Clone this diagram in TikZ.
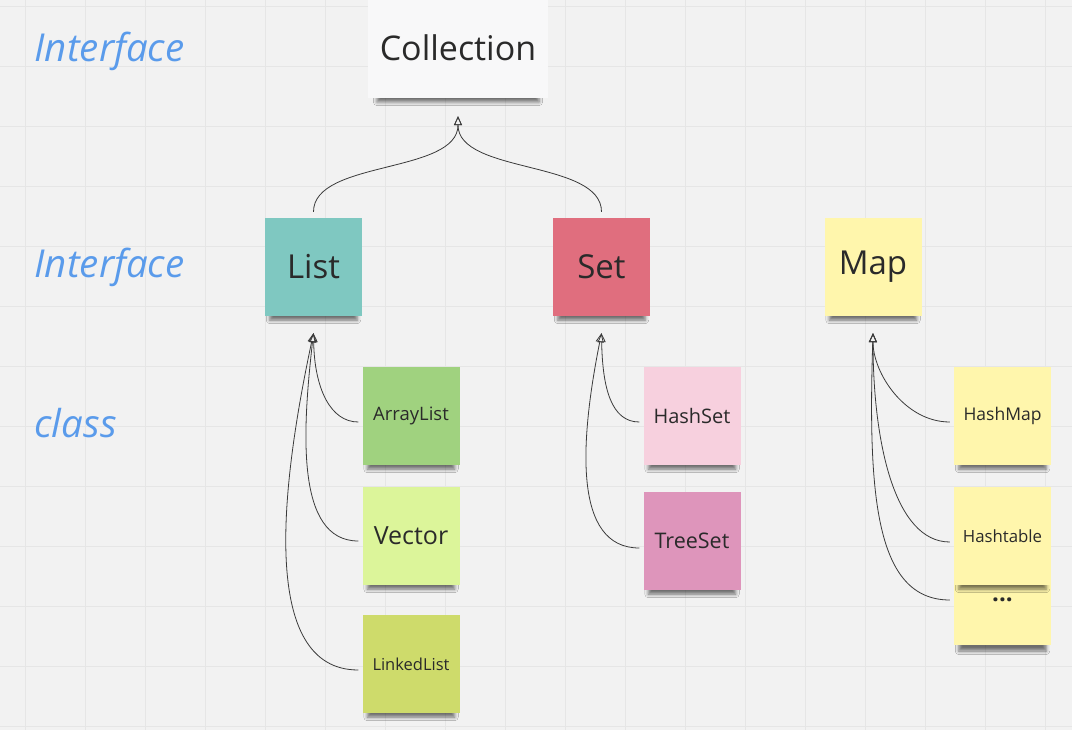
\documentclass[tikz,border=0pt]{standalone}
\usepackage{fontspec}
\setmainfont{Open Sans}
\usepackage{xcolor}
\usepackage{tikz}
\usetikzlibrary{arrows.meta, positioning, shadows.blur}
\definecolor{board}{HTML}{F2F2F2}
\definecolor{gridc}{HTML}{E6E6E6}
\definecolor{ink}{HTML}{2A2A2A}
\definecolor{wire}{HTML}{3A3A3A}
\definecolor{tagBlue}{HTML}{5A9BEB}
\definecolor{paperWhite}{HTML}{F8F8F9}
\definecolor{listTeal}{HTML}{7FC8C1}
\definecolor{setRed}{HTML}{E06E7E}
\definecolor{mapYellow}{HTML}{FFF6AC}
\definecolor{arrGreen}{HTML}{A0D27F}
\definecolor{vecLime}{HTML}{DCF59A}
\definecolor{lnkOlive}{HTML}{CEDB6B}
\definecolor{hsPink}{HTML}{F7D0DE}
\definecolor{tsPink}{HTML}{DE95BB}

\begin{document}
\begin{tikzpicture}[x=1pt, y=-1pt, font=\fontsize{33pt}{35pt}\selectfont]
    \tikzset{
      note/.style={rectangle, minimum width=97pt, minimum height=98pt,
                   inner sep=0pt, align=center, text=ink,
                   blur shadow={shadow xshift=0pt, shadow yshift=-10pt,
                                shadow scale=0.9, shadow blur radius=4pt,
                                shadow opacity=55}},
      tag/.style={anchor=west, text=tagBlue,
                  font=\fontsize{38.5pt}{40pt}\selectfont\itshape},
      gridline/.style={draw=gridc, line width=0.6pt},
      inh/.style={-{Triangle[open, length=9pt, width=8pt]}, draw=wire,
                  line width=0.8pt}
    }
    % board and grid
    \fill[board] (0,0) rectangle (1072,730);
    \useasboundingbox (0,0) rectangle (1072,730);
    \foreach \gx in {25,85,...,1045}
      \draw[gridline] (\gx,0) -- (\gx,730);
    \foreach \gy in {6,66,...,726}
      \draw[gridline] (0,\gy) -- (1072,\gy);
    % level labels
    \node[tag] (lvlTop) at (31,51) {Interface};
    \node[tag] (lvlMid) at (31,267) {Interface};
    \node[tag] (lvlCls) at (31,423) {class};
    % interfaces
    \node[note, fill=paperWhite, minimum width=180pt, minimum height=100pt,
          font=\fontsize{34pt}{36pt}\selectfont] (coll) at (458,48) {Collection};
    \node[note, fill=listTeal] (list) at (313.5,267) {List};
    \node[note, fill=setRed] (set) at (601.5,267) {Set};
    \node[note, fill=mapYellow] (map) at (873,267) {Map};
    % classes
    \node[note, fill=arrGreen, font=\fontsize{18.5pt}{20pt}\selectfont] (arr) at (411,416) {ArrayList};
    \node[note, fill=vecLime, font=\fontsize{25pt}{27pt}\selectfont] (vec) at (411,536) {Vector};
    \node[note, fill=lnkOlive, font=\fontsize{16.5pt}{18pt}\selectfont] (lnk) at (411,664) {LinkedList};
    \node[note, fill=hsPink, font=\fontsize{20pt}{22pt}\selectfont] (hset) at (692,416) {HashSet};
    \node[note, fill=tsPink, font=\fontsize{21.5pt}{23pt}\selectfont] (tset) at (692,541) {TreeSet};
    \node[note, fill=mapYellow, minimum height=60pt, text depth=30pt,
          font=\bfseries\fontsize{24pt}{26pt}\selectfont] (more) at (1002.5,615) {...};
    \node[note, fill=mapYellow, font=\fontsize{17.5pt}{19pt}\selectfont] (hmap) at (1002.5,416) {HashMap};
    \node[note, fill=mapYellow, font=\fontsize{16.8pt}{18pt}\selectfont] (htab) at (1002.5,536) {Hashtable};
    % inheritance
    \draw[inh] ([yshift=6pt]list.north) .. controls +(0,-52) and +(0,58) .. ([yshift=-18pt]coll.south);
    \draw[inh] ([yshift=6pt]set.north) .. controls +(0,-52) and +(0,58) .. ([yshift=-18pt]coll.south);
    \draw[inh] ([xshift=-4pt,yshift=-6pt]arr.west) .. controls +(-28,0) and +(1,55) .. ([yshift=-17pt]list.south);
    \draw[inh] ([xshift=-4pt,yshift=-5pt]vec.west) .. controls +(-63,0) and +(-11,97) .. ([yshift=-17pt]list.south);
    \draw[inh] ([xshift=-4pt,yshift=-6pt]lnk.west) .. controls +(-100,0) and +(-32,150) .. ([yshift=-17pt]list.south);
    \draw[inh] ([xshift=-4pt,yshift=-6pt]hset.west) .. controls +(-28,0) and +(1,55) .. ([yshift=-17pt]set.south);
    \draw[inh] ([xshift=-4pt,yshift=-7pt]tset.west) .. controls +(-66,0) and +(-22,110) .. ([yshift=-17pt]set.south);
    \draw[inh] ([xshift=-4pt,yshift=-6pt]hmap.west) .. controls +(-45,0) and +(0,40) .. ([yshift=-17pt]map.south);
    \draw[inh] ([xshift=-4pt,yshift=-6pt]htab.west) .. controls +(-55,0) and +(0,110) .. ([yshift=-17pt]map.south);
    \draw[inh] ([xshift=-4pt,yshift=15pt]more.west) .. controls +(-75,0) and +(-5,160) .. ([yshift=-17pt]map.south);
\end{tikzpicture}
\end{document}
